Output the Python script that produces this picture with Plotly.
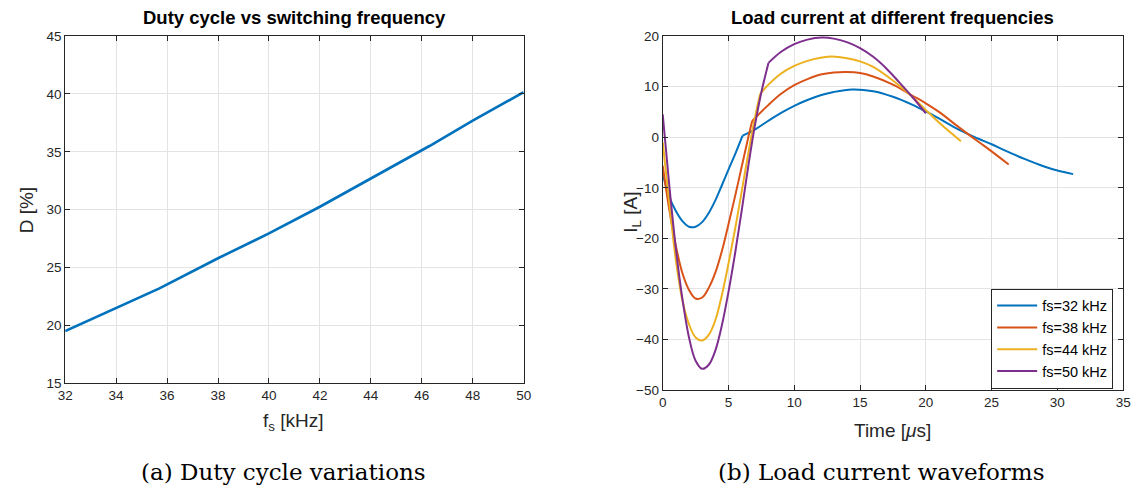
import plotly.graph_objects as go

# ---------------- data ----------------
fs_khz = [32, 34, 35.7, 38, 40, 42, 44, 46.3, 48, 50]
duty_pct = [19.5, 21.5, 23.2, 25.8, 27.95, 30.25, 32.7, 35.5, 37.7, 40.15]

series_names = ["fs=32 kHz", "fs=38 kHz", "fs=44 kHz", "fs=50 kHz"]
on_time_us = [6.07, 6.8, 7.4, 8.04]   # end of the on interval (kink in the waveform)

t_32 = [0, 0.5, 1.0, 1.5, 2.0, 2.5, 3.0, 3.5, 4.0, 4.5, 5.0, 5.5, 6.07,
        7.0, 8.0, 9.0, 10, 11, 12, 13, 14.4, 16, 17.5, 19, 20, 21, 22.5, 24, 25, 26, 27.5, 29, 30, 31.2]
i_32 = [-7.2, -11.8, -14.6, -16.6, -17.7, -17.7, -16.8, -15.0, -12.5, -9.5, -6.4, -3.4, 0.3,
        1.5, 3.2, 4.8, 6.2, 7.35, 8.3, 8.95, 9.45, 9.1, 8.0, 6.4, 5.1, 3.7, 1.5, -0.3, -1.4, -2.6, -4.3, -5.8, -6.6, -7.3]

t_38 = [0, 0.5, 1.0, 1.5, 2.0, 2.5, 3.0, 3.5, 4.0, 4.5, 5.0, 5.5, 6.0, 6.5, 6.8,
        8.0, 9.0, 10, 11, 12, 13, 14, 15, 16, 17.5, 19, 20, 21, 22.5, 24, 25, 26.3]
i_38 = [-5.6, -14.3, -21.5, -26.9, -30.2, -31.9, -31.7, -29.8, -26.8, -22.5, -17.2, -11.7, -5.9, -0.1, 3.2,
        6.3, 8.6, 10.3, 11.5, 12.4, 12.8, 12.9, 12.7, 12.0, 10.4, 8.2, 6.7, 5.0, 2.0, -0.9, -2.8, -5.4]

t_44 = [0, 0.5, 1.0, 1.5, 2.0, 2.5, 3.0, 3.5, 4.0, 4.5, 5.0, 5.5, 6.0, 6.5, 7.0, 7.4,
        8.0, 9.0, 10, 11, 12, 12.9, 14, 15, 16, 17.5, 19, 20, 21, 22.67]
i_44 = [-1.0, -13.0, -24.3, -32.3, -37.0, -39.6, -40.2, -39.1, -36.2, -31.2, -25.0, -18.2, -10.8, -3.3, 3.7, 8.5,
        10.3, 12.6, 14.1, 15.1, 15.7, 15.95, 15.6, 15.0, 13.9, 11.2, 7.9, 5.4, 2.9, -0.8]

t_50 = [0, 0.5, 1.0, 1.5, 2.0, 2.5, 3.0, 3.5, 4.0, 4.5, 5.0, 5.5, 6.0, 6.5, 7.0, 7.5, 8.04,
        9.0, 10, 11, 12.1, 13, 14, 15, 16, 17, 18, 19, 20]
i_50 = [4.5, -9.5, -22.0, -32.0, -39.6, -44.2, -45.8, -45.0, -42.2, -37.2, -30.6, -23.0, -14.6, -5.8, 2.2, 8.9, 14.7,
        16.9, 18.4, 19.3, 19.7, 19.5, 18.8, 17.6, 15.9, 13.6, 10.8, 7.9, 4.7]

x1_ticks = [32, 34, 36, 38, 40, 42, 44, 46, 48, 50]
y1_ticks = [15, 20, 25, 30, 35, 40, 45]
x2_ticks = [0, 5, 10, 15, 20, 25, 30, 35]
y2_ticks = [-50, -40, -30, -20, -10, 0, 10, 20]

colors = ["#0072BD", "#D95319", "#EDB120", "#7E2F8E"]

# ---------------- figure ----------------
W, H = 1142, 494


def px_x(p):
    return p / W


def px_y(p):
    return 1 - p / H


fig = go.Figure()

fig.add_trace(go.Scatter(x=fs_khz, y=duty_pct, mode="lines", line=dict(color=colors[0], width=2.6),
                         showlegend=False, xaxis="x", yaxis="y"))

all_t = [t_32, t_38, t_44, t_50]
all_i = [i_32, i_38, i_44, i_50]
for k in range(4):
    t, i, ton = all_t[k], all_i[k], on_time_us[k]
    n_on = [j for j, v in enumerate(t) if v <= ton + 1e-9][-1] + 1
    fig.add_trace(go.Scatter(x=t[:n_on], y=i[:n_on], mode="lines",
                             line=dict(color=colors[k], width=2, shape="spline", smoothing=1.0),
                             name=series_names[k], legendgroup=series_names[k],
                             xaxis="x2", yaxis="y2"))
    fig.add_trace(go.Scatter(x=t[n_on - 1:], y=i[n_on - 1:], mode="lines",
                             line=dict(color=colors[k], width=2, shape="spline", smoothing=1.0),
                             name=series_names[k], legendgroup=series_names[k], showlegend=False,
                             xaxis="x2", yaxis="y2"))

tick_font = dict(family="Liberation Sans, Arial, sans-serif", size=13.5, color="#262626")
axis_common = dict(showline=True, linecolor="#262626", linewidth=1, mirror="ticks",
                   ticks="inside", ticklen=5, tickcolor="#262626", tickwidth=1,
                   showgrid=True, gridcolor="#e3e3e3", gridwidth=1, zeroline=False,
                   tickfont=tick_font)

L = dict(x0=58, x1=523, y0=30, y1=388)
R = dict(x0=664, x1=1131, y0=30, y1=395)

fig.update_layout(
    width=W, height=H,
    margin=dict(l=0, r=0, t=0, b=0),
    paper_bgcolor="white", plot_bgcolor="white",
    xaxis=dict(domain=[px_x(L["x0"]), px_x(L["x1"])], range=[32, 50], tickvals=x1_ticks,
               anchor="y", **axis_common),
    yaxis=dict(domain=[px_y(L["y1"]), px_y(L["y0"])], range=[15, 45], tickvals=y1_ticks,
               anchor="x", **axis_common),
    xaxis2=dict(domain=[px_x(R["x0"]), px_x(R["x1"])], range=[0, 35], tickvals=x2_ticks,
                anchor="y2", **axis_common),
    yaxis2=dict(domain=[px_y(R["y1"]), px_y(R["y0"])], range=[-50, 20], tickvals=y2_ticks,
                anchor="x2", **axis_common),
    legend=dict(x=px_x(1059), y=px_y(342), xanchor="center", yanchor="middle",
                bgcolor="white", bordercolor="#262626", borderwidth=1,
                font=dict(family="Liberation Sans, Arial, sans-serif", size=14.5, color="#000000"),
                tracegroupgap=0, itemwidth=40),
)

title_font = dict(family="Liberation Sans, Arial, sans-serif", size=18.5, color="#000000")
label_font = dict(family="Liberation Sans, Arial, sans-serif", size=19, color="#262626")
cap_font = dict(family="DejaVu Serif, serif", size=23, color="#000000")

annotations = [
    dict(text="<b>Duty cycle vs switching frequency</b>", x=px_x((L["x0"] + L["x1"]) / 2), y=px_y(11),
         font=title_font),
    dict(text="<b>Load current at different frequencies</b>", x=px_x((R["x0"] + R["x1"]) / 2), y=px_y(11),
         font=title_font),
    dict(text="D [%]", x=px_x(19), y=px_y(210), textangle=-90, font=label_font),
    dict(text="f<sub>s</sub> [kHz]", x=px_x(290), y=px_y(428), font=label_font),
    dict(text="I<sub>L</sub> [A]", x=px_x(632), y=px_y(212), textangle=-90, font=label_font),
    dict(text="Time [<i>\u03bc</i>s]", x=px_x(897), y=px_y(437), font=label_font),
    dict(text="(a) Duty cycle variations", x=px_x(279), y=px_y(480), font=cap_font),
    dict(text="(b) Load current waveforms", x=px_x(885), y=px_y(480), font=cap_font),
]
for a in annotations:
    a.update(xref="paper", yref="paper", showarrow=False, xanchor="center", yanchor="middle")
fig.update_layout(annotations=annotations)

fig.write_html("out.html")
